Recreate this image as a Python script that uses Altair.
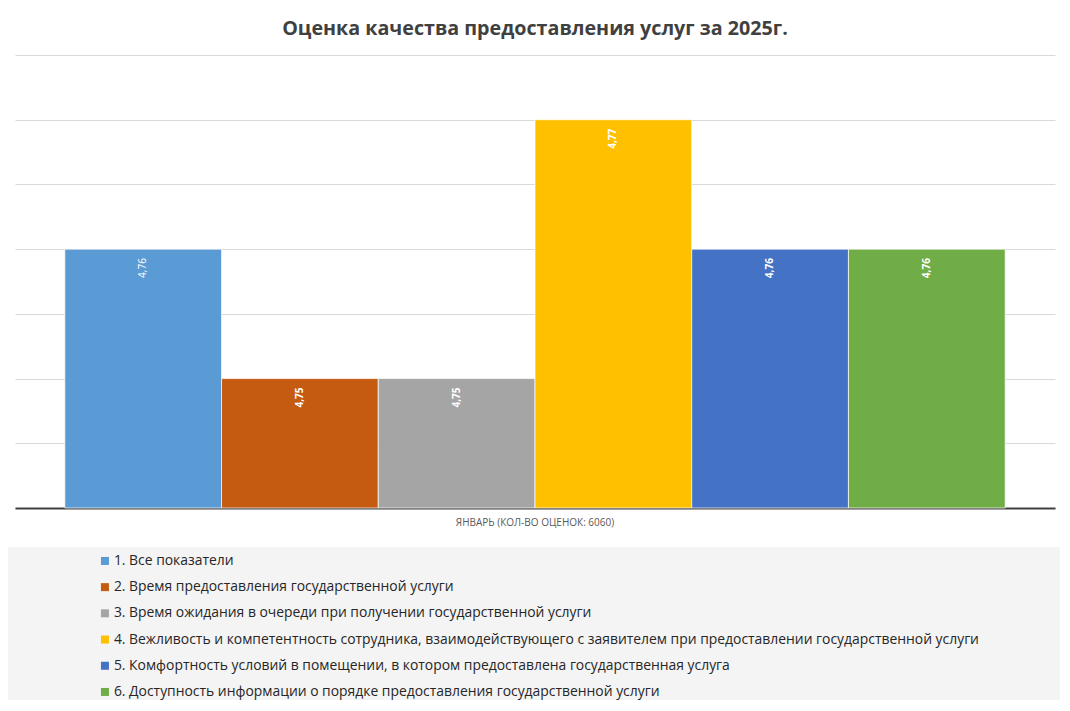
import altair as alt
import pandas as pd

categories = [
    "1. Все показатели",
    "2. Время предоставления государственной услуги",
    "3. Время ожидания в очереди при получении государственной услуги",
    "4. Вежливость и компетентность сотрудника, взаимодействующего с заявителем при предоставлении государственной услуги",
    "5. Комфортность условий в помещении, в котором предоставлена государственная услуга",
    "6. Доступность информации о порядке предоставления государственной услуги",
]
values = [4.76, 4.75, 4.75, 4.77, 4.76, 4.76]
labels = ["4,76", "4,75", "4,75", "4,77", "4,76", "4,76"]
bold = [False, True, True, True, True, True]
colors = ["#5B9BD5", "#C55A11", "#A5A5A5", "#FFC000", "#4472C4", "#70AD47"]
period = "ЯНВАРЬ (КОЛ-ВО ОЦЕНОК: 6060)"
y_ticks = [4.74, 4.745, 4.75, 4.755, 4.76, 4.765, 4.77, 4.775]
title_text = "Оценка качества предоставления услуг за 2025г."

FONT = "Open Sans"

df = pd.DataFrame({
    "series": categories,
    "value": values,
    "label": labels,
    "bold": bold,
    "period": [period] * len(categories),
})

x_enc = alt.X(
    "period:N",
    scale=alt.Scale(paddingInner=0, paddingOuter=0.053),
    axis=alt.Axis(
        title=None, labelAngle=0, ticks=False, domain=True,
        domainColor="#404040", domainWidth=2, labelFontSize=10,
        labelColor="#595959", labelPadding=9, labelFont=FONT, labelLimit=500,
    ),
)
xo_enc = alt.XOffset(
    "series:N",
    scale=alt.Scale(domain=categories, paddingInner=0, paddingOuter=0),
)
y_enc = alt.Y(
    "value:Q",
    scale=alt.Scale(domain=[4.74, 4.775], zero=False, nice=False),
    axis=alt.Axis(
        values=y_ticks, labels=False, ticks=False, domain=False,
        grid=True, gridColor="#d9d9d9", gridWidth=1, title=None,
    ),
)

base = alt.Chart(df).encode(x=x_enc, xOffset=xo_enc)

bars = base.mark_bar(stroke="white", strokeWidth=0.7).encode(
    y=y_enc,
    y2=alt.datum(4.74),
    color=alt.Color(
        "series:N",
        scale=alt.Scale(domain=categories, range=colors),
        legend=alt.Legend(
            title=None, orient="none", legendX=83, legendY=499,
            direction="vertical", symbolType="square", symbolSize=64,
            symbolStrokeWidth=0, labelFontSize=13.9, labelFont=FONT,
            labelColor="#262626", labelLimit=1000, rowPadding=11.2,
            labelOffset=2, padding=0,
        ),
    ),
)

text_normal = base.mark_text(
    angle=270, align="right", baseline="middle", dx=-9,
    fontSize=10, color="white", font=FONT,
).encode(y=alt.Y("value:Q"), text="label:N").transform_filter("!datum.bold")

text_bold = base.mark_text(
    angle=270, align="right", baseline="middle", dx=-9,
    fontSize=10, color="white", font=FONT, fontWeight="bold",
).encode(y=alt.Y("value:Q"), text="label:N").transform_filter("datum.bold")

legend_box = alt.Chart(pd.DataFrame({"k": [0]})).mark_rect(
    color="#f4f4f4", clip=False
).encode(
    x=alt.value(-7), x2=alt.value(1045), y=alt.value(492), y2=alt.value(645)
)

chart = alt.layer(legend_box, bars, text_normal, text_bold).properties(
    width=1040,
    height=453,
    title=alt.Title(
        text=title_text, font=FONT, fontSize=19.7, fontWeight="bold",
        color="#404040", anchor="middle", offset=0, baseline="alphabetic",
    ),
    autosize=alt.AutoSizeParams(type="none"),
    padding={"left": 7, "top": 47, "right": 7, "bottom": 195},
).configure_view(stroke=None)

chart.save("out.html", embed_options={"renderer": "svg", "actions": False})
